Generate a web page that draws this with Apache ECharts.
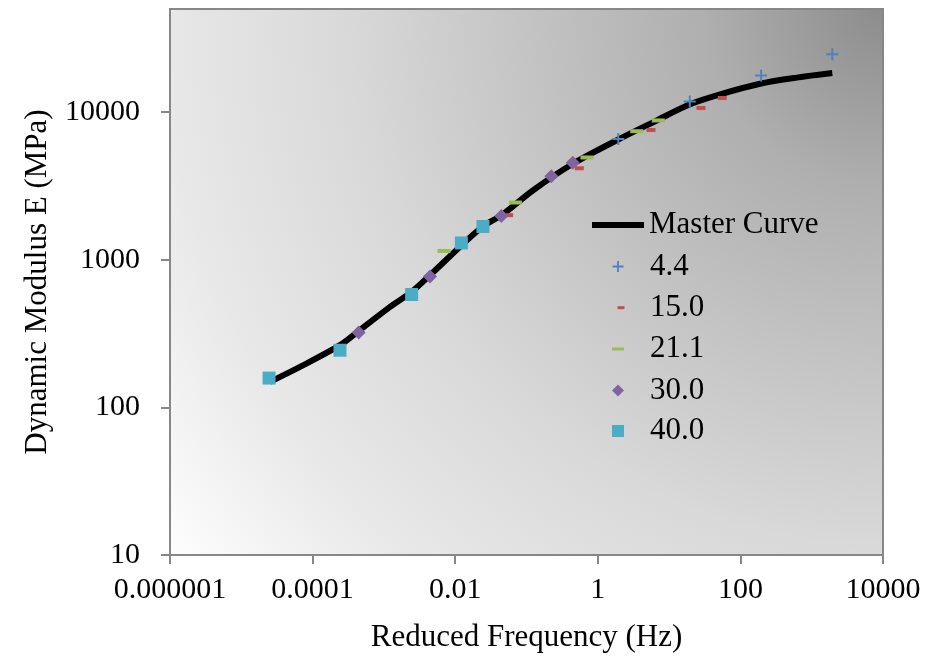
<!DOCTYPE html>
<html>
<head>
<meta charset="utf-8">
<script src="https://cdn.jsdelivr.net/npm/echarts@6/dist/echarts.min.js"></script>
<style>html,body{margin:0;padding:0;background:#fff}#c{width:925px;height:657px}</style>
</head>
<body>
<div id="c"></div>
<script>
// ---- data ----
const masterFreq = [2.53e-5, 6.65e-5, 2.42e-4, 4.44e-4, 1.22e-3, 2.45e-3, 4.44e-3, 0.0123, 0.0248, 0.0449, 0.124, 0.453, 1.94, 6.34, 19.6, 53.5, 195, 617, 1945];
const masterE    = [149, 188, 264, 330, 480, 607, 787, 1256, 1690, 2005, 2960, 4490, 6530, 8670, 11300, 13250, 15630, 17140, 18400];

const freq44  = [1.94, 19.5, 195, 1945];
const e44     = [6590, 11800, 17700, 24660];
const freq150 = [0.0562, 0.551, 5.57, 28.0, 55.7];
const e150    = [2005, 4170, 7570, 10670, 12480];
const freq211 = [0.00697, 0.0697, 0.705, 3.52, 7.06];
const e211    = [1148, 2443, 4933, 7430, 8790];
const freq300 = [0.000443, 0.00443, 0.0443, 0.223, 0.445];
const e300    = [322, 771, 1982, 3680, 4540];
const freq400 = [0.0000245, 0.000242, 0.00245, 0.0122, 0.0245];
const e400    = [158, 244, 582, 1300, 1680];

const seriesNames = ['Master Curve', '4.4', '15.0', '21.1', '30.0', '40.0'];

const xTicks = [0.000001, 0.0001, 0.01, 1, 100, 10000];
const xTickLabels = ['0.000001', '0.0001', '0.01', '1', '100', '10000'];
const yTicks = [10, 100, 1000, 10000];
const yTickLabels = ['10', '100', '1000', '10000'];

// ---- helpers ----
function zip(a, b) { return a.map((v, i) => [v, b[i]]); }
function lookupLabel(ticks, labels) {
  return function (v) {
    for (let i = 0; i < ticks.length; i++) {
      if (Math.abs(Math.log10(v) - Math.log10(ticks[i])) < 1e-6) return labels[i];
    }
    return '';
  };
}

const FONT = 'Liberation Serif';
const AXIS_GRAY = '#878787';
const plusPath = 'path://M5,0H7V5H12V7H7V12H5V7H0V5H5Z';

function legendFor(name, left, centerY, w, h, padLeft, icon) {
  const item = { name: name };
  if (icon) item.icon = icon;
  return {
    data: [item],
    left: left,
    top: centerY - 16,
    padding: 0,
    itemWidth: w,
    itemHeight: h,
    selectedMode: false,
    textStyle: { fontFamily: FONT, fontSize: 31, color: '#000', lineHeight: 32, padding: [0, 0, 0, padLeft] }
  };
}

const chart = echarts.init(document.getElementById('c'), null, { renderer: 'canvas' });
chart.setOption({
  animation: false,
  backgroundColor: '#fff',
  grid: {
    left: 170, right: 42, top: 9, bottom: 102,
    show: true,
    borderColor: AXIS_GRAY,
    borderWidth: 2,
    outerBoundsMode: 'none',
    backgroundColor: {
      type: 'radial', x: 1, y: 0, r: 1.646,
      colorStops: [
        { offset: 0, color: '#8c8c8c' },
        { offset: 0.2, color: '#afafaf' },
        { offset: 0.6, color: '#d9d9d9' },
        { offset: 0.8, color: '#e8e8e8' },
        { offset: 1, color: '#fefefe' }
      ]
    }
  },
  legend: [
    legendFor(seriesNames[0], 592, 225, 52, 6, 0, 'rect'),
    legendFor(seriesNames[1], 612.5, 266.5, 11, 11, 21.5, plusPath),
    legendFor(seriesNames[2], 617.5, 307.7, 7, 3, 20.5),
    legendFor(seriesNames[3], 612, 349, 12, 3, 21),
    legendFor(seriesNames[4], 612, 390.5, 12, 12, 21),
    legendFor(seriesNames[5], 612, 431, 12, 12, 21)
  ],
  xAxis: {
    type: 'log',
    logBase: 10,
    min: xTicks[0],
    max: xTicks[xTicks.length - 1],
    interval: 2,
    name: 'Reduced Frequency (Hz)',
    nameLocation: 'middle',
    nameGap: 67,
    nameTextStyle: { fontFamily: FONT, fontSize: 31, color: '#000' },
    axisLine: { show: true, lineStyle: { color: AXIS_GRAY, width: 2 } },
    axisTick: { show: true, length: 9, lineStyle: { color: AXIS_GRAY, width: 2 } },
    splitLine: { show: false },
    minorTick: { show: false },
    axisLabel: { margin: 20, fontFamily: FONT, fontSize: 30, color: '#000', formatter: lookupLabel(xTicks, xTickLabels) }
  },
  yAxis: {
    type: 'log',
    logBase: 10,
    min: yTicks[0],
    max: 50000,
    interval: 1,
    name: 'Dynamic Modulus E (MPa)',
    nameLocation: 'middle',
    nameGap: 117,
    nameTextStyle: { fontFamily: FONT, fontSize: 31, color: '#000' },
    axisLine: { show: true, lineStyle: { color: AXIS_GRAY, width: 2 } },
    axisTick: { show: true, length: 9, lineStyle: { color: AXIS_GRAY, width: 2 } },
    splitLine: { show: false },
    axisLabel: { margin: 30, fontFamily: FONT, fontSize: 30, color: '#000', showMaxLabel: false, formatter: lookupLabel(yTicks, yTickLabels) }
  },
  series: [
    {
      name: seriesNames[0], type: 'line', data: zip(masterFreq, masterE),
      smooth: 0.3, symbol: 'none', showSymbol: false, z: 2,
      lineStyle: { color: '#000', width: 6 }, itemStyle: { color: '#000' }
    },
    {
      name: seriesNames[1], type: 'scatter', data: zip(freq44, e44), z: 5,
      symbol: plusPath, symbolSize: 12, itemStyle: { color: '#4F81BD', opacity: 1 }
    },
    {
      name: seriesNames[2], type: 'scatter', data: zip(freq150, e150), z: 5,
      symbol: 'rect', symbolSize: [9, 4], itemStyle: { color: '#C0504D', opacity: 1 }
    },
    {
      name: seriesNames[3], type: 'scatter', data: zip(freq211, e211), z: 5,
      symbol: 'rect', symbolSize: [13, 4], itemStyle: { color: '#9BBB59', opacity: 1 }
    },
    {
      name: seriesNames[4], type: 'scatter', data: zip(freq300, e300), z: 5,
      symbol: 'diamond', symbolSize: 14, itemStyle: { color: '#8064A2', opacity: 1 }
    },
    {
      name: seriesNames[5], type: 'scatter', data: zip(freq400, e400), z: 5,
      symbol: 'rect', symbolSize: 13, itemStyle: { color: '#4BACC6', opacity: 1 }
    }
  ]
});
</script>
</body>
</html>
